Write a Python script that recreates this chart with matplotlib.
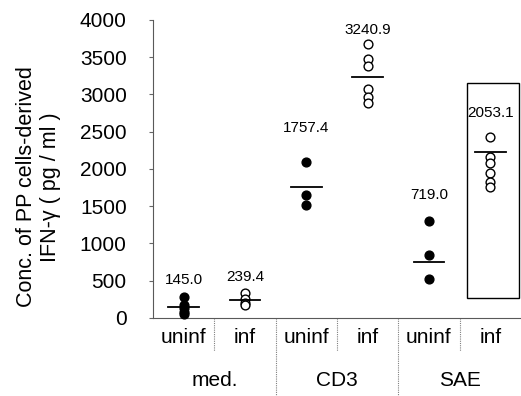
import matplotlib.pyplot as plt
from matplotlib.patches import Rectangle
from matplotlib.transforms import blended_transform_factory

plt.rcParams['font.family'] = ['Liberation Sans', 'DejaVu Sans']

# data
conditions = ['uninf', 'inf', 'uninf', 'inf', 'uninf', 'inf']
groups = ['med.', 'CD3', 'SAE']
filled = [True, False, True, False, True, False]
points = [
    [280, 180, 130, 80, 55],
    [330, 260, 200, 170],
    [2100, 1650, 1520],
    [3680, 3470, 3380, 3070, 2970, 2880],
    [1300, 850, 520],
    [2430, 2160, 2080, 1950, 1830, 1760],
]
mean_lines = [145.0, 239.4, 1757.4, 3240.9, 752, 2228]
mean_labels = ['145.0', '239.4', '1757.4', '3240.9', '719.0', '2053.1']
label_offsets = [12, 11.5, 24, 10, 19, 17]  # points above the top marker

fig = plt.figure(figsize=(5.21, 3.96), dpi=100)
ax = fig.add_axes([0.2937, 0.197, 0.706, 0.7525])

for i, vals in enumerate(points):
    x = i + 0.5
    fc = 'black' if filled[i] else 'white'
    ax.scatter([x] * len(vals), vals, s=40, facecolors=fc, edgecolors='black',
               linewidths=1.0, zorder=3, clip_on=False)
    ax.plot([x - 0.25, x + 0.25], [mean_lines[i]] * 2, color='black', lw=1.3, zorder=4)
    ax.annotate(mean_labels[i], (x, max(vals)), xytext=(0, label_offsets[i]),
                textcoords='offset points', ha='center', va='center', fontsize=11)

# box around SAE inf
ax.add_patch(Rectangle((5.12, 270), 0.85, 2880, fill=False, edgecolor='black', lw=1.0,
                       zorder=2, clip_on=False))

ax.set_xlim(0, 6)
ax.set_ylim(0, 4000)
ax.set_yticks(range(0, 4001, 500))
ax.set_xticks([])
ax.tick_params(axis='y', labelsize=15, length=3, width=0.8, color='0.4', pad=16)
ax.spines['top'].set_visible(False)
ax.spines['right'].set_visible(False)
ax.spines['left'].set_color('0.35')
ax.spines['bottom'].set_color('0.35')
ax.spines['left'].set_linestyle((0, (2, 1)))
ax.spines['bottom'].set_linestyle((0, (2, 1)))

ax.set_ylabel('Conc. of PP cells-derived\nIFN-γ ( pg / ml )', fontsize=15.5,
              linespacing=1.2)
ax.yaxis.set_label_coords(-0.25, 0.44)

trans = blended_transform_factory(ax.transData, ax.transAxes)
for i, c in enumerate(conditions):
    ax.text(i + 0.5, -0.065, c, transform=trans, ha='center', va='center', fontsize=15)
for j, g in enumerate(groups):
    ax.text(2 * j + 1, -0.21, g, transform=trans, ha='center', va='center', fontsize=15)

# separators below the axis
for k in range(1, 6):
    y_end = -0.27 if k % 2 == 0 else -0.11
    ax.plot([k, k], [0, y_end], transform=trans, color='0.5', lw=0.8,
            linestyle=(0, (1, 1)), clip_on=False)

plt.savefig('out.png', dpi=100)
